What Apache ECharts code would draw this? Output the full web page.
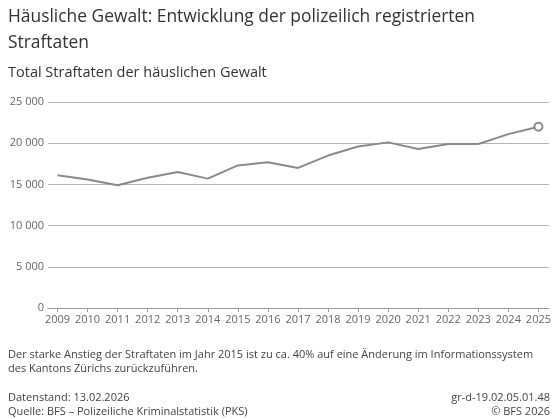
<!DOCTYPE html>
<html><head><meta charset="utf-8">
<script src="https://cdn.jsdelivr.net/npm/echarts@6/dist/echarts.min.js"></script>
<style>html,body{margin:0;padding:0;background:#fff}#c{width:554px;height:419px}</style>
</head><body><div id="c"></div>
<script>
const years = ['2009','2010','2011','2012','2013','2014','2015','2016','2017','2018','2019','2020','2021','2022','2023','2024','2025'];
const totals = [16100,15600,14900,15800,16500,15700,17300,17700,17000,18500,19600,20100,19300,19900,19900,21100,22000];
const yTicks = [0,5000,10000,15000,20000,25000];

const font = '"Open Sans", "Noto Sans", sans-serif';
const chart = echarts.init(document.getElementById('c'));
const fmt = v => String(v).replace(/\B(?=(\d{3})+(?!\d))/g, ' ');
const txt = (x, y, s, size, color, align) => ({
  type: 'text', left: align === 'right' ? undefined : x, right: align === 'right' ? x : undefined, top: y,
  style: { text: s, font: size + 'px ' + font, fill: color }
});
chart.setOption({
  animation: false,
  grid: [
    { left: 57.5, right: 13.5, top: 102, bottom: 111 },
    { left: 48, right: 5, top: 102, bottom: 111 }
  ],
  xAxis: [
    { type: 'category', gridIndex: 0, data: years, boundaryGap: false,
      axisLine: { show: false },
      axisTick: { show: true, length: 4, lineStyle: { color: '#9a9a9a' } },
      axisLabel: { color: '#666', fontFamily: font, fontSize: 11, margin: 6, interval: 0 } },
    { type: 'value', gridIndex: 1, min: 0, max: 1,
      axisLine: { show: true, onZero: false, lineStyle: { color: '#9a9a9a', width: 1 } },
      axisTick: { show: false }, axisLabel: { show: false }, splitLine: { show: false } }
  ],
  yAxis: [
    { type: 'value', gridIndex: 0, min: yTicks[0], max: yTicks[yTicks.length-1], interval: 5000, show: false },
    { type: 'value', gridIndex: 1, min: yTicks[0], max: yTicks[yTicks.length-1], interval: 5000,
      axisLine: { show: false }, axisTick: { show: false },
      axisLabel: { color: '#666', fontFamily: font, fontSize: 11, margin: 4, formatter: fmt },
      splitLine: { lineStyle: { color: '#b5b5b5', width: 1 } } }
  ],
  series: [{
    type: 'line', xAxisIndex: 0, yAxisIndex: 0, data: totals.map((v, i) => i === totals.length - 1 ?
      { value: v, symbol: 'circle', symbolSize: 8, itemStyle: { color: '#fff', borderColor: '#8a8a8a', borderWidth: 2 } } : v),
    symbol: 'none', showSymbol: true,
    lineStyle: { color: '#8a8a8a', width: 2 }, itemStyle: { color: '#8a8a8a' }
  }],
  graphic: [
    txt(8, 9, 'Häusliche Gewalt: Entwicklung der polizeilich registrierten', 17.4, '#333'),
    txt(8, 35, 'Straftaten', 17.4, '#333'),
    txt(8, 65, 'Total Straftaten der häuslichen Gewalt', 14.5, '#333'),
    txt(8, 349, 'Der starke Anstieg der Straftaten im Jahr 2015 ist zu ca. 40% auf eine Änderung im Informationssystem', 11, '#444'),
    txt(8, 363, 'des Kantons Zürichs zurückzuführen.', 11, '#444'),
    txt(8, 392, 'Datenstand: 13.02.2026', 11, '#444'),
    txt(8, 406, 'Quelle: BFS – Polizeiliche Kriminalstatistik (PKS)', 11, '#444'),
    txt(4, 392, 'gr-d-19.02.05.01.48', 11, '#444', 'right'),
    txt(4, 406, '© BFS 2026', 11, '#444', 'right')
  ]
});
</script></body></html>
